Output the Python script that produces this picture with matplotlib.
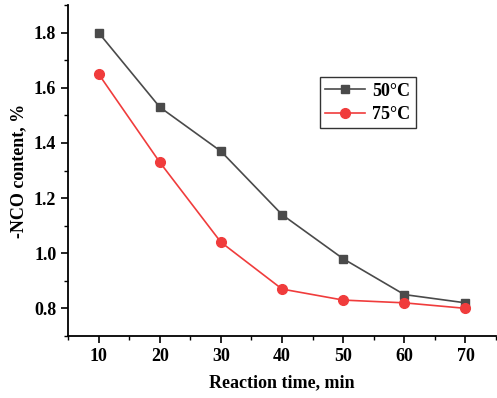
import matplotlib.pyplot as plt
from matplotlib.ticker import MultipleLocator

# data
time_min = [10, 20, 30, 40, 50, 60, 70]
nco_50 = [1.80, 1.53, 1.37, 1.14, 0.98, 0.85, 0.82]
nco_75 = [1.65, 1.33, 1.04, 0.87, 0.83, 0.82, 0.80]

plt.rcParams['font.family'] = ['Liberation Serif', 'DejaVu Serif']
plt.rcParams['font.weight'] = 'bold'

fig = plt.figure(figsize=(4.97, 3.98), dpi=100)
ax = fig.add_axes([0.137, 0.156, 0.861, 0.831])

ax.plot(time_min, nco_50, marker='s', color='#4a4a4a', markersize=6,
        linewidth=1.2, label='50°C')
ax.plot(time_min, nco_75, marker='o', color='#f03c3c', markersize=7,
        linewidth=1.2, label='75°C')

ax.set_xlim(5, 75)
ax.set_ylim(0.7, 1.9)
ax.xaxis.set_major_locator(MultipleLocator(10))
ax.xaxis.set_minor_locator(MultipleLocator(5))
ax.yaxis.set_minor_locator(MultipleLocator(0.1))
ax.set_yticks([0.8, 1.0, 1.2, 1.4, 1.6, 1.8])

ax.spines['top'].set_visible(False)
ax.spines['right'].set_visible(False)
for s in ('left', 'bottom'):
    ax.spines[s].set_linewidth(1.3)

ax.tick_params(which='major', direction='out', length=5, width=1.2, labelsize=13)
ax.tick_params(which='minor', direction='out', length=3, width=1.0)

ax.set_xlabel('Reaction time, min', fontsize=13, fontweight='bold', labelpad=7)
ax.set_ylabel('-NCO content, %', fontsize=13, fontweight='bold', labelpad=5)

leg = ax.legend(loc='upper left', bbox_to_anchor=(0.588, 0.782), fontsize=13,
                frameon=True, fancybox=False, edgecolor='black',
                handlelength=2.2, borderpad=0.3, labelspacing=0.35,
                handletextpad=0.4, borderaxespad=0)
leg.get_frame().set_linewidth(1.0)

plt.savefig('out.png', dpi=100)
